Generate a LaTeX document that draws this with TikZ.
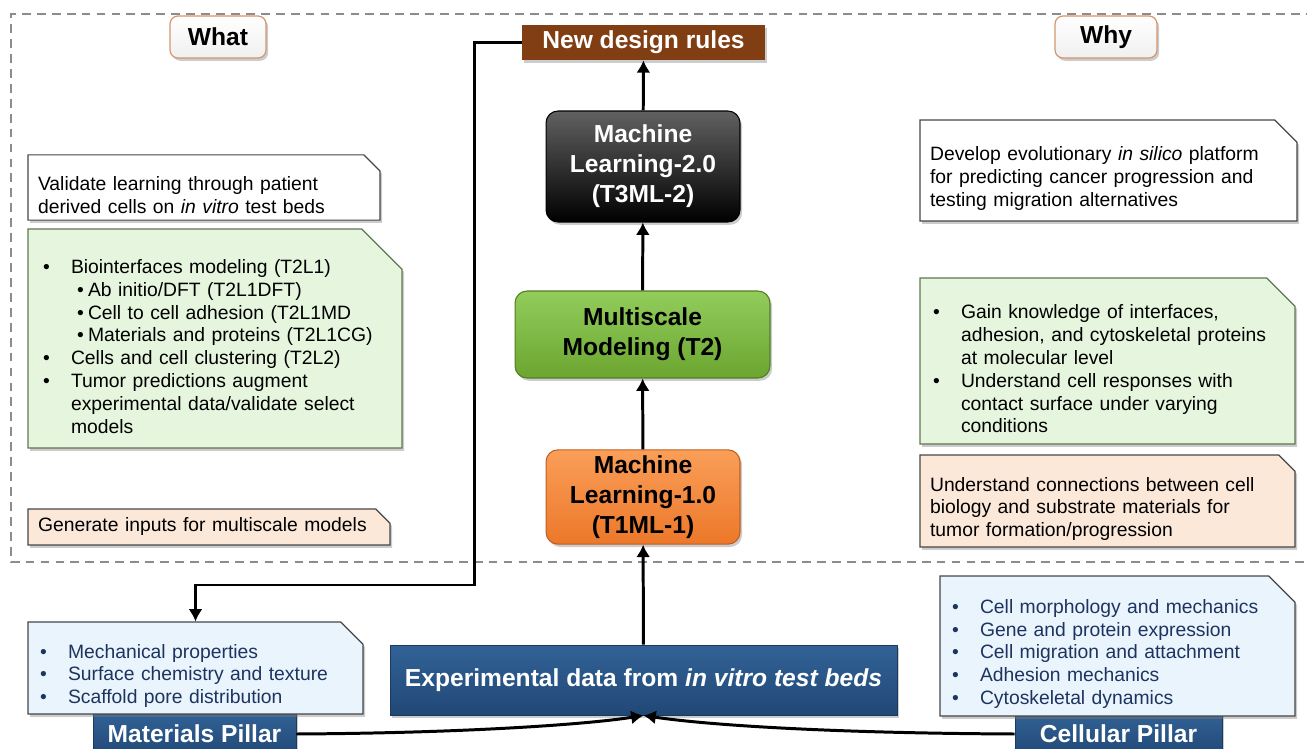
\documentclass[tikz,border=0pt]{standalone}
\usepackage{fontspec}
\setmainfont{Liberation Sans}
\usepackage{tikz}
\usetikzlibrary{arrows.meta,shapes.misc,shadows}

% bullet helpers for the text boxes
\newcommand{\blt}{\makebox[0.56cm][l]{\textbullet}}
\newcommand{\subblt}{\hspace*{0.68cm}\makebox[0.22cm][l]{\textbullet}}
\newcommand{\cont}{\hspace*{0.56cm}}

\begin{document}
\begin{tikzpicture}[x=0.02cm,y=-0.02cm,
    shade/.style={drop shadow={shadow xshift=1.2pt,shadow yshift=-1.6pt,opacity=0.4}},
    flow/.style={line width=1.7pt, -{Latex[length=7pt,width=8pt]}},
    stage/.style={rectangle, rounded corners=0.24cm, align=center, line width=0.6pt,
        font=\fontsize{14}{17}\selectfont\bfseries, shade},
    bar/.style={rectangle, align=center, text=white, top color=blueT, bottom color=blueB,
        draw=blueB!80!black, line width=0.5pt, font=\fontsize{14}{17}\selectfont\bfseries, shade},
    % the chamfer widens the shape on both sides, so inner xsep is set per note
    note/.style={chamfered rectangle, chamfered rectangle corners=north east, draw=edge,
        line width=0.7pt, align=left, inner ysep=0pt,
        font=\fontsize{11}{13}\selectfont, shade},
    lowered/.style={execute at begin node={\rule{0pt}{17pt}}},
    tag/.style={rectangle, rounded corners=0.16cm, draw=tagedge, line width=0.7pt,
        top color=white, bottom color=black!6, font=\fontsize{14}{17}\selectfont\bfseries,
        minimum height=0.84cm, shade}
  ]
    \definecolor{brownbox}{RGB}{128,62,18}
    \definecolor{greenT}{RGB}{146,204,92}
    \definecolor{greenB}{RGB}{108,166,48}
    \definecolor{orangeT}{RGB}{250,158,88}
    \definecolor{orangeB}{RGB}{236,120,42}
    \definecolor{blueT}{RGB}{50,98,150}
    \definecolor{blueB}{RGB}{32,72,118}
    \definecolor{edge}{RGB}{70,70,70}
    \definecolor{greenedge}{RGB}{96,118,84}
    \definecolor{tagedge}{RGB}{214,150,108}
    \definecolor{paleblue}{RGB}{233,244,252}
    \definecolor{palegreen}{RGB}{230,245,222}
    \definecolor{palepeach}{RGB}{252,232,217}
    \definecolor{navytext}{RGB}{30,52,96}

    \useasboundingbox (0,0) rectangle (1307,749);

    % dashed frame round the modeling part
    \draw[black!45, line width=0.8pt, dash pattern=on 5pt off 3.5pt] (1330,14) -| (11,562) -- (1330,562);

    % headers
    \node (what) at (218,37) [tag, minimum width=1.92cm] {What};
    \node (why) at (1106,37) [tag, minimum width=2.04cm] {Why};

    % center column
    \node (rules) at (643.5,42.5) [rectangle, fill=brownbox, text=white, minimum width=4.86cm,
        minimum height=0.7cm, font=\fontsize{14}{17}\selectfont\bfseries, shade] {New design rules};
    \node (ml2) at (643,166.5) [stage, top color=black!62, bottom color=black, draw=black,
        text=white, minimum width=3.88cm, minimum height=2.22cm] {Machine\\Learning-2.0\\(T3ML-2)};
    \node (ms) at (642.5,334.5) [stage, top color=greenT, bottom color=greenB, draw=greenB!75!black,
        minimum width=5.1cm, minimum height=1.74cm] {Multiscale\\Modeling (T2)};
    \node (ml1) at (643,497) [stage, top color=orangeT, bottom color=orangeB, draw=orangeB!80!black,
        minimum width=3.88cm, minimum height=1.88cm] {Machine\\Learning-1.0\\(T1ML-1)};
    \node (exp) at (643.5,680) [bar, minimum width=10.14cm, minimum height=1.4cm]
        {Experimental data from \textit{in vitro test beds}};

    % pillars
    \node (matP) at (194.5,734) [bar, minimum width=4.06cm, minimum height=0.88cm] {Materials Pillar};
    \node (celP) at (1118.5,734) [bar, minimum width=4.14cm, minimum height=0.88cm] {Cellular Pillar};

    % left column (what)
    \node (valid) at (204,187.5) [note, lowered, fill=white, text width=6.64cm, inner xsep=0cm,
        minimum height=1.26cm, chamfered rectangle xsep=0.2cm]
        {Validate learning through patient\\derived cells on \textit{in vitro} test beds};
    \node (bioL) at (215,338.5) [note, lowered, fill=palegreen, draw=greenedge, text width=6.88cm,
        inner xsep=-0.38cm, minimum height=4.38cm, chamfered rectangle xsep=0.68cm]
        {\blt Biointerfaces modeling (T2L1)\\
         \subblt Ab initio/DFT (T2L1DFT)\\
         \subblt Cell to cell adhesion (T2L1MD\\
         \subblt Materials and proteins (T2L1CG)\\
         \blt Cells and cell clustering (T2L2)\\
         \blt Tumor predictions augment\\
         \cont experimental data/validate select\\
         \cont models};
    \node (gen) at (209,527) [note, fill=palepeach, text width=6.84cm, inner xsep=0.04cm,
        minimum height=0.72cm, chamfered rectangle xsep=0.16cm] {Generate inputs for multiscale models};

    % right column (why)
    \node (devel) at (1108.5,170.5) [note, lowered, fill=white, text width=7.14cm, inner xsep=-0.12cm,
        minimum height=2.02cm, chamfered rectangle xsep=0.32cm]
        {Develop evolutionary \textit{in silico} platform\\
         for predicting cancer progression and\\
         testing migration alternatives};
    \node (gain) at (1107.5,361) [note, lowered, fill=palegreen, draw=greenedge, text width=6.98cm,
        inner xsep=-0.18cm, minimum height=3.32cm, chamfered rectangle xsep=0.44cm]
        {\blt Gain knowledge of interfaces,\\
         \cont adhesion, and cytoskeletal proteins\\
         \cont at molecular level\\
         \blt Understand cell responses with\\
         \cont contact surface under varying\\
         \cont conditions};
    \node (conn) at (1107.5,501) [note, lowered, fill=palepeach, text width=7.1cm, inner xsep=0cm,
        minimum height=1.76cm, chamfered rectangle xsep=0.2cm]
        {Understand connections between cell\\
         biology and substrate materials for\\
         tumor formation/progression};

    % pillar details
    \node (matL) at (195.5,668) [note, lowered, fill=paleblue, text=navytext, text width=6.22cm,
        inner xsep=-0.08cm, minimum height=1.8cm, chamfered rectangle xsep=0.32cm]
        {\blt Mechanical properties\\
         \blt Surface chemistry and texture\\
         \blt Scaffold pore distribution};
    \node (celR) at (1117.5,646) [note, lowered, fill=paleblue, text=navytext, text width=6.62cm,
        inner xsep=-0.16cm, minimum height=2.8cm, chamfered rectangle xsep=0.4cm]
        {\blt Cell morphology and mechanics\\
         \blt Gene and protein expression\\
         \blt Cell migration and attachment\\
         \blt Adhesion mechanics\\
         \blt Cytoskeletal dynamics};

    % connectors
    \draw[flow] (exp) -- (ml1);
    \draw[flow] (ml1) -- (ms);
    \draw[flow] (ms) -- (ml2);
    \draw[flow] (ml2) -- (rules);
    \draw[flow] (rules.west) -| (474,585) -| (matL.north);
    \draw[flow] (matP.east) .. controls (470,733) and (590,724) .. (exp.south);
    \draw[flow] (celP.west) .. controls (815,733) and (700,724) .. (exp.south);
\end{tikzpicture}
\end{document}
